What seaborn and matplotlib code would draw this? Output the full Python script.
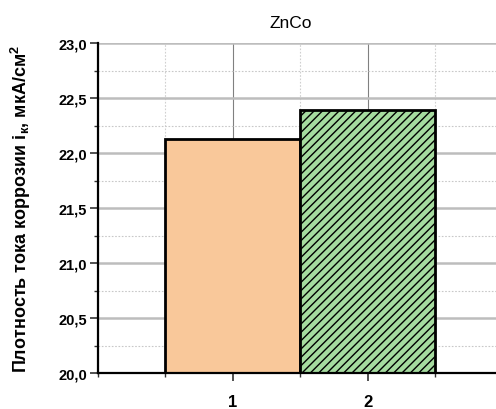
import matplotlib
matplotlib.use("Agg")
import matplotlib.pyplot as plt
from matplotlib.ticker import MultipleLocator, FuncFormatter
import pandas as pd
import seaborn as sns

samples = [1, 2]
current_density = [22.13, 22.39]
bar_colors = ["#F9C89A", "#A5DB9F"]
title = "ZnCo"
ylabel = "Плотность тока коррозии i$_{\\mathbf{к}}$, мкА/см$^{\\mathbf{2}}$"

sns.set_theme(style="white")
plt.rcParams["font.family"] = ["Liberation Sans", "DejaVu Sans"]
plt.rcParams["mathtext.fontset"] = "custom"
plt.rcParams["mathtext.rm"] = "Liberation Sans"
plt.rcParams["mathtext.bf"] = "Liberation Sans:bold"
plt.rcParams["hatch.linewidth"] = 1.0
plt.rcParams["hatch.color"] = "black"
plt.rcParams["text.color"] = "black"
plt.rcParams["xtick.color"] = "black"
plt.rcParams["ytick.color"] = "black"
plt.rcParams["axes.labelcolor"] = "black"

df = pd.DataFrame({"sample": samples, "value": current_density})

fig = plt.figure(figsize=(4.96, 4.10), dpi=100)
ax = fig.add_axes([98 / 496, 36 / 410, 398 / 496, 330 / 410])

sns.barplot(data=df, x="sample", y="value", hue="sample", palette=bar_colors,
            saturation=1, native_scale=True, width=1.0, legend=False, ax=ax,
            edgecolor="black", linewidth=2, zorder=3)
for patch in ax.patches:
    patch.set_zorder(3)
ax.patches[1].set_hatch("////")

ax.set_xlim(0, 2.95)
ax.set_ylim(20.0, 23.0)
ax.xaxis.set_major_locator(MultipleLocator(1))
ax.xaxis.set_minor_locator(MultipleLocator(0.5))
ax.yaxis.set_major_locator(MultipleLocator(0.5))
ax.yaxis.set_minor_locator(MultipleLocator(0.25))
ax.set_xticks([1, 2])
ax.set_xticklabels(["1", "2"])
ax.yaxis.set_major_formatter(FuncFormatter(lambda v, _: f"{v:.1f}".replace(".", ",")))

ax.grid(True, which="major", axis="y", color="#BDBDBD", linewidth=1.8, zorder=0)
ax.grid(True, which="minor", axis="y", color="#C8C8C8", linewidth=0.8,
        linestyle=(0, (1.5, 1.5)), zorder=0)
ax.grid(True, which="major", axis="x", color="#808080", linewidth=0.8, zorder=0)
ax.grid(True, which="minor", axis="x", color="#D0D0D0", linewidth=0.8,
        linestyle=(0, (1.5, 1.5)), zorder=0)
ax.set_axisbelow(True)

for side in ("top", "right"):
    ax.spines[side].set_visible(False)
for side in ("left", "bottom"):
    ax.spines[side].set_color("black")
    ax.spines[side].set_linewidth(1.6)
    ax.spines[side].set_zorder(4)

ax.tick_params(axis="both", which="major", direction="out", length=6, width=1.2,
               color="#333333", bottom=True, left=True)
ax.tick_params(axis="both", which="minor", direction="out", length=3, width=1.0,
               color="#333333", bottom=True, left=True)
ax.tick_params(axis="y", which="major", labelsize=10.5, pad=2)
ax.tick_params(axis="x", which="major", labelsize=12, pad=9)
for lab in ax.get_yticklabels() + ax.get_xticklabels():
    lab.set_fontweight("bold")

ax.set_xlabel("")
ax.set_ylabel(ylabel, fontsize=13, fontweight="bold", labelpad=18)
fig.text(291 / 496, 1 - 24 / 410, title, ha="center", va="center", fontsize=12.5)

fig.savefig("out.png", dpi=100)
